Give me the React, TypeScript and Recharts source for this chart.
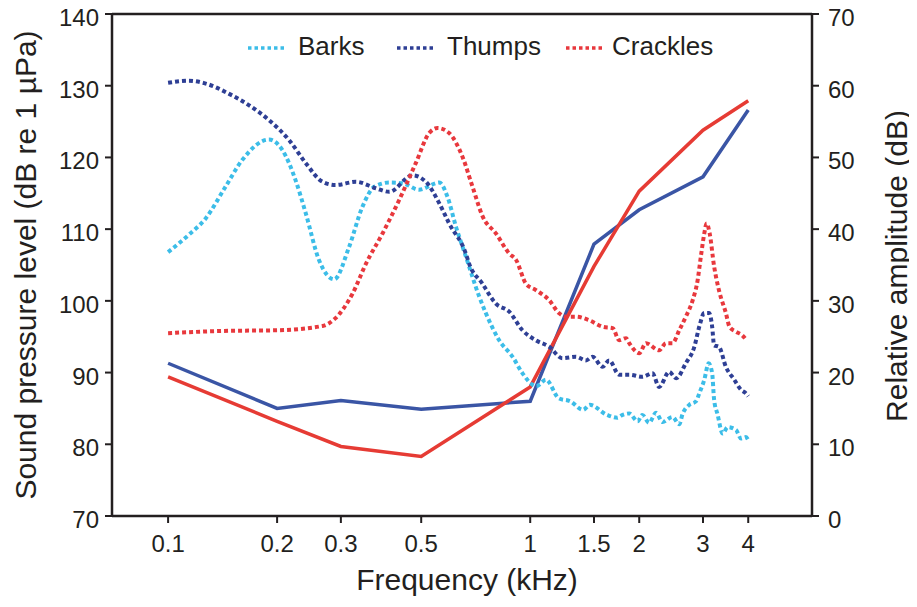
import React from 'react';
import { LineChart, Line, XAxis, YAxis, ReferenceLine } from 'recharts';

const FONT = '"Liberation Sans", Arial, Helvetica, sans-serif';
const AXIS = '#231f20';

// Tick values
const freqTicks = [0.1, 0.2, 0.3, 0.5, 1, 1.5, 2, 3, 4];
const splTicks = [70, 80, 90, 100, 110, 120, 130, 140];
const ampTicks = [0, 10, 20, 30, 40, 50, 60, 70];

// Solid lines (left axis, sound pressure level)
const thresholdFreqs = [0.1, 0.2, 0.3, 0.5, 1, 1.5, 2, 3, 4];
const blueSolid = [91.3, 85.0, 86.1, 84.9, 86.0, 107.9, 112.7, 117.3, 126.6];
const redSolid = [89.4, 83.2, 79.7, 78.3, 88.0, 104.8, 115.3, 123.8, 127.9];

// Dotted spectra (right axis, relative amplitude)
const barksFreqs = [0.1, 0.114, 0.127, 0.144, 0.16, 0.19, 0.207, 0.225, 0.24, 0.261, 0.2875, 0.316, 0.344, 0.371, 0.408, 0.444, 0.493, 0.561, 0.591, 0.624, 0.664, 0.723, 0.754, 0.821, 0.894, 0.952, 1.015, 1.04, 1.105, 1.2, 1.29, 1.4, 1.46, 1.63, 1.74, 1.8, 1.877, 1.98, 2.04, 2.13, 2.225, 2.32, 2.47, 2.58, 2.634, 2.75, 2.87, 2.93, 3.025, 3.11, 3.18, 3.22, 3.29, 3.4, 3.51, 3.7, 3.82, 3.94, 4.0];
const barksLevels = [36.8, 39.2, 41.5, 45.9, 49.6, 52.5, 51.0, 46.8, 42.2, 35.7, 33.0, 37.5, 43.1, 45.9, 46.5, 46.4, 45.5, 46.5, 44.5, 40.3, 36.2, 30.6, 28.3, 24.5, 22.2, 19.9, 18.3, 18.1, 19.0, 16.4, 16.0, 14.8, 15.5, 14.1, 13.7, 14.1, 14.3, 13.2, 14.1, 13.0, 14.4, 13.1, 13.8, 12.8, 14.2, 15.5, 16.0, 17.1, 19.0, 21.3, 19.9, 16.2, 14.2, 11.5, 12.4, 12.0, 10.8, 11.0, 10.6];

const thumpsFreqs = [0.1, 0.114, 0.127, 0.147, 0.167, 0.19, 0.216, 0.24, 0.267, 0.29, 0.33, 0.375, 0.408, 0.473, 0.515, 0.561, 0.597, 0.664, 0.678, 0.738, 0.804, 0.875, 0.952, 1.037, 1.128, 1.228, 1.337, 1.425, 1.486, 1.584, 1.652, 1.76, 1.877, 2.04, 2.175, 2.27, 2.42, 2.53, 2.69, 2.84, 2.93, 3.025, 3.12, 3.18, 3.22, 3.32, 3.47, 3.66, 3.82, 3.94, 4.0];
const thumpsLevels = [60.4, 60.7, 60.3, 58.9, 57.3, 55.2, 52.4, 49.2, 46.6, 46.15, 46.6, 45.7, 45.2, 47.5, 46.6, 43.6, 40.8, 36.6, 35.2, 32.4, 29.6, 28.5, 25.9, 24.5, 23.6, 22.0, 22.2, 21.7, 22.2, 20.8, 21.7, 19.7, 19.7, 19.4, 19.9, 18.0, 20.1, 19.2, 21.3, 23.6, 26.4, 28.3, 28.3, 26.4, 23.8, 23.6, 20.8, 19.0, 17.6, 17.1, 16.7];

const cracklesFreqs = [0.1, 0.141, 0.2, 0.267, 0.29, 0.323, 0.352, 0.391, 0.435, 0.483, 0.526, 0.555, 0.597, 0.65, 0.693, 0.74, 0.804, 0.875, 0.914, 0.973, 1.037, 1.128, 1.2, 1.255, 1.337, 1.455, 1.584, 1.69, 1.76, 1.84, 1.877, 2.0, 2.087, 2.27, 2.37, 2.47, 2.58, 2.69, 2.81, 2.9, 2.96, 3.025, 3.07, 3.13, 3.22, 3.32, 3.47, 3.55, 3.7, 3.85, 3.96];
const cracklesLevels = [25.5, 25.8, 25.9, 26.5, 27.6, 31.0, 35.2, 39.4, 44.1, 49.2, 53.4, 54.1, 53.4, 50.1, 45.9, 41.7, 39.4, 36.6, 35.7, 32.4, 31.5, 30.1, 28.3, 27.8, 27.8, 27.3, 26.4, 26.2, 24.5, 24.8, 24.1, 22.7, 24.1, 23.1, 24.1, 24.1, 25.9, 27.8, 30.1, 32.9, 36.2, 39.4, 40.8, 39.4, 34.8, 31.5, 28.3, 26.4, 25.7, 25.2, 24.5];

const COLORS = {
  barks: '#3cbde8',
  thumps: '#2e3f95',
  crackles: '#e8383d',
  blueSolid: '#3a55a5',
  redSolid: '#e63b34',
};

const toPoints = (fs: number[], vs: number[]) => fs.map((f, i) => ({ f, v: vs[i] }));

const blueSolidData = toPoints(thresholdFreqs, blueSolid);
const redSolidData = toPoints(thresholdFreqs, redSolid);
const barksData = toPoints(barksFreqs, barksLevels);
const thumpsData = toPoints(thumpsFreqs, thumpsLevels);
const cracklesData = toPoints(cracklesFreqs, cracklesLevels);

const legendItems = [
  { name: 'Barks', color: COLORS.barks, x1: 240, x2: 277, tx: 290 },
  { name: 'Thumps', color: COLORS.thumps, x1: 389, x2: 426, tx: 439 },
  { name: 'Crackles', color: COLORS.crackles, x1: 558, x2: 594, tx: 604 },
];

const XTitle = () => (
  <text x={459} y={590} textAnchor="middle" fontFamily={FONT} fontSize={30} fill={AXIS}>
    Frequency (kHz)
  </text>
);

const LeftTitle = () => (
  <text x={28} y={265} transform="rotate(-90, 28, 265)" textAnchor="middle" fontFamily={FONT} fontSize={30} fill={AXIS}>
    Sound pressure level (dB re 1 µPa)
  </text>
);

const RightTitle = () => (
  <text x={899} y={266} transform="rotate(-90, 899, 266)" textAnchor="middle" fontFamily={FONT} fontSize={30} fill={AXIS}>
    Relative amplitude (dB)
  </text>
);

const tickStyle = { fill: AXIS, fontSize: 24, fontFamily: FONT };

const LeftTick = (p: any) => (
  <text x={p.x} y={p.y + 12} textAnchor="end" fontFamily={FONT} fontSize={24} fill={AXIS}>
    {p.payload.value}
  </text>
);

const RightTick = (p: any) => (
  <text x={p.x} y={p.y + 12} textAnchor="start" fontFamily={FONT} fontSize={24} fill={AXIS}>
    {p.payload.value}
  </text>
);

export default function App() {
  return (
    <div style={{ position: 'relative', width: 909, height: 607, marginTop: -8 }}>
      <LineChart width={909} height={607} margin={{ top: 14, right: 0, bottom: 0, left: 0 }}>
        <XAxis
          dataKey="f"
          type="number"
          scale="log"
          domain={[0.07, 6]}
          allowDataOverflow
          ticks={freqTicks}
          tickFormatter={(v: number) => String(v)}
          height={91}
          tickSize={7}
          tickMargin={12}
          tick={tickStyle}
          axisLine={{ stroke: AXIS, strokeWidth: 2.5 }}
          tickLine={{ stroke: AXIS, strokeWidth: 2 }}
          interval={0}
          label={XTitle}
        />
        <YAxis
          yAxisId="left"
          orientation="left"
          type="number"
          domain={[70, 140]}
          ticks={splTicks}
          width={104}
          tickSize={7}
          tickMargin={6}
          tick={LeftTick}
          axisLine={{ stroke: AXIS, strokeWidth: 2.5 }}
          tickLine={{ stroke: AXIS, strokeWidth: 2 }}
          interval={0}
          label={LeftTitle}
        />
        <YAxis
          yAxisId="right"
          orientation="right"
          type="number"
          domain={[0, 70]}
          ticks={ampTicks}
          width={105}
          tickSize={7}
          tickMargin={9}
          tick={RightTick}
          axisLine={{ stroke: AXIS, strokeWidth: 2.5 }}
          tickLine={{ stroke: AXIS, strokeWidth: 2 }}
          interval={0}
          label={RightTitle}
        />
        <ReferenceLine yAxisId="left" y={140} stroke={AXIS} strokeWidth={2.5} />
        <Line data={blueSolidData} dataKey="v" yAxisId="left" type="linear" stroke={COLORS.blueSolid} strokeWidth={3.5} dot={false} isAnimationActive={false} />
        <Line data={redSolidData} dataKey="v" yAxisId="left" type="linear" stroke={COLORS.redSolid} strokeWidth={3.5} dot={false} isAnimationActive={false} />
        <Line data={barksData} dataKey="v" yAxisId="right" type="monotone" stroke={COLORS.barks} strokeWidth={4} strokeDasharray="4 3" dot={false} isAnimationActive={false} />
        <Line data={thumpsData} dataKey="v" yAxisId="right" type="monotone" stroke={COLORS.thumps} strokeWidth={4} strokeDasharray="4 3" dot={false} isAnimationActive={false} />
        <Line data={cracklesData} dataKey="v" yAxisId="right" type="monotone" stroke={COLORS.crackles} strokeWidth={4} strokeDasharray="4 3" dot={false} isAnimationActive={false} />
      </LineChart>
      <svg width={909} height={90} style={{ position: 'absolute', left: 0, top: 0, pointerEvents: 'none' }}>
        {legendItems.map((it) => (
          <g key={it.name}>
            <line x1={it.x1} x2={it.x2} y1={48} y2={48} stroke={it.color} strokeWidth={3.5} strokeDasharray="3.5 3" />
            <text x={it.tx} y={55} fontFamily={FONT} fontSize={26} fill={AXIS}>{it.name}</text>
          </g>
        ))}
      </svg>
    </div>
  );
}
